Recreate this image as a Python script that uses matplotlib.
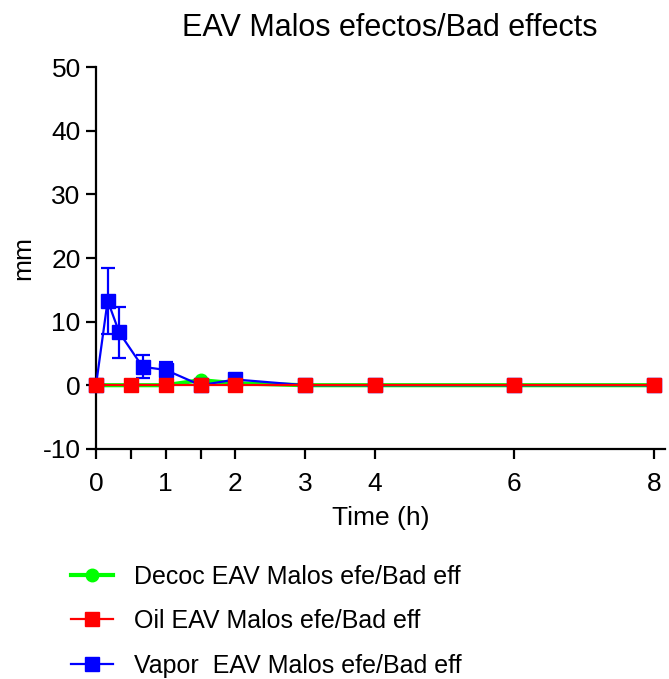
import matplotlib
matplotlib.use('Agg')
import matplotlib.pyplot as plt

plt.rcParams['font.family'] = ['Liberation Sans', 'DejaVu Sans']
plt.rcParams['axes.unicode_minus'] = False

# time points (h)
t_decoc = [0, 0.5, 1, 1.5, 2, 3, 4, 6, 8]
decoc = [0, 0, 0, 0.8, 0.3, 0, 0, 0, 0]

t_oil = [0, 0.5, 1, 1.5, 2, 3, 4, 6, 8]
oil = [0, 0, 0, 0, 0, 0, 0, 0, 0]

t_vapor = [0, 0.167, 0.333, 0.667, 1, 1.5, 2, 3, 4, 6, 8]
vapor = [0, 13.3, 8.3, 2.9, 2.4, 0, 0.9, 0, 0, 0, 0]
vapor_err = [0, 5.2, 4.0, 1.8, 1.3, 0, 0, 0, 0, 0, 0]

labels = ['Decoc EAV Malos efe/Bad eff',
          'Oil EAV Malos efe/Bad eff',
          'Vapor  EAV Malos efe/Bad eff']

xticks = [0, 0.5, 1, 1.5, 2, 3, 4, 6, 8]
xticklabels = ['0', '', '1', '', '2', '3', '4', '6', '8']
yticks = [-10, 0, 10, 20, 30, 40, 50]

fig = plt.figure(figsize=(6.69, 6.79), dpi=100)
ax = fig.add_axes([0.1435, 0.339, 0.8505, 0.562])

l1, = ax.plot(t_decoc, decoc, '-o', color='#00ff00', lw=3, ms=9,
              label=labels[0], zorder=3, clip_on=False)
l3 = ax.errorbar(t_vapor, vapor, yerr=vapor_err, fmt='-s', color='#0000ff',
                 lw=1.6, ms=9.5, capsize=5, capthick=1.6, elinewidth=1.6,
                 zorder=4, clip_on=False)
l2, = ax.plot(t_oil, oil, '-s', color='#ff0000', lw=1.6, ms=9.5,
              label=labels[1], zorder=5, clip_on=False)

ax.set_xlim(0, 8.16)
ax.set_ylim(-10, 50)
ax.set_xticks(xticks)
ax.set_xticklabels(xticklabels)
ax.set_yticks(yticks)
ax.spines['top'].set_visible(False)
ax.spines['right'].set_visible(False)
ax.spines['left'].set_linewidth(1.6)
ax.spines['bottom'].set_linewidth(1.6)
ax.tick_params(direction='out', length=7, width=1.6, labelsize=19)
ax.tick_params(axis='x', pad=10)
ax.tick_params(axis='y', pad=4)

ax.set_xlabel('Time (h)', fontsize=19, labelpad=7)
fig.text(0.034, 0.62, 'mm', rotation=90, fontsize=19, ha='center', va='center')
fig.text(0.583, 0.959, 'EAV Malos efectos/Bad effects', fontsize=22,
         ha='center', va='center')

fig.legend([l1, l2, l3[0]], labels, loc='upper left',
           bbox_to_anchor=(0.087, 0.187), frameon=False, fontsize=18,
           borderpad=0, handlelength=1.7, labelspacing=0.82, handletextpad=0.85)

fig.savefig('out.png', dpi=100)
